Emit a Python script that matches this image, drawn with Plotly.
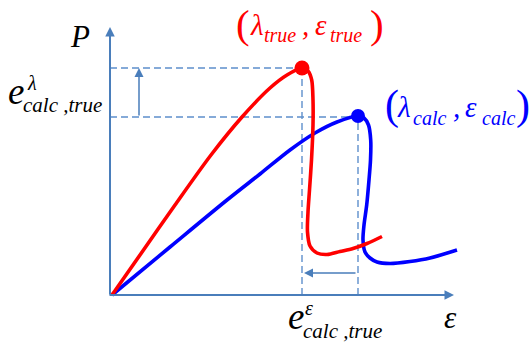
import plotly.graph_objects as go

# Sketch origin (where the P and ε axes meet), in page pixels
OX, OY = 110, 295
W, H = 530, 345

AXIS = "#4A7EBB"
GUIDE = "#5E8FCC"
RED = "#FF0000"
BLUE = "#0000FF"

# "true" response curve: deformation ε vs load P
red_eps = [2, 30, 65, 101, 132, 160, 177, 192, 198, 201.7, 203, 203, 201.5,
           199.5, 198, 197.5, 200, 207, 217, 230, 243, 257, 272]
red_P = [0, 40, 90, 140, 178, 207, 220, 227, 224, 215, 195, 170, 135,
         105, 83, 63, 49, 42, 40.5, 43.5, 46.5, 51.5, 58.5]

# "calc" response curve
blue_eps = [2, 60, 117, 150, 180, 205, 227, 248, 254, 258.5,
            260.7, 260.5, 259, 256.7, 254, 253, 255, 260, 267, 280, 300, 320, 347]
blue_P = [0, 48, 95, 121, 145, 162, 173, 179, 177, 170,
          155, 135, 115, 90, 70, 55, 43, 37, 33, 31.5, 33.5, 37, 45]

# limit points (λ, ε) of each curve
red_peak_eps, red_peak_P = 192, 227
blue_peak_eps, blue_peak_P = 248, 179

fig = go.Figure()

# dashed guide lines from the limit points to the axes
guides = [
    ([0, red_peak_eps], [red_peak_P, red_peak_P]),
    ([0, blue_peak_eps], [blue_peak_P - 1, blue_peak_P - 1]),
    ([red_peak_eps, red_peak_eps], [0, red_peak_P]),
    ([blue_peak_eps, blue_peak_eps], [0, blue_peak_P]),
]
for gx, gy in guides:
    fig.add_trace(go.Scatter(x=gx, y=gy, mode="lines", hoverinfo="skip",
                             line=dict(color=GUIDE, width=1.4, dash="7px,4px")))

for ex, py, col in [(blue_eps, blue_P, BLUE), (red_eps, red_P, RED)]:
    fig.add_trace(go.Scatter(x=ex, y=py, mode="lines",
                             line=dict(color=col, width=3.6, shape="spline", smoothing=0.8)))

fig.add_trace(go.Scatter(x=[red_peak_eps], y=[red_peak_P], mode="markers",
                         marker=dict(color=RED, size=15)))
fig.add_trace(go.Scatter(x=[blue_peak_eps], y=[blue_peak_P], mode="markers",
                         marker=dict(color=BLUE, size=14)))


def arrow(tip, tail, width, size, color):
    fig.add_annotation(x=tip[0], y=tip[1], ax=tail[0], ay=tail[1],
                       xref="x", yref="y", axref="x", ayref="y", text="",
                       showarrow=True, arrowhead=2, arrowwidth=width,
                       arrowsize=size, arrowcolor=color)


# coordinate axes
arrow((0, 268), (0, -1), 2, 0.95, AXIS)
arrow((344, 0), (-2, 0), 2, 0.95, AXIS)
# shift of the limit load and of the limit deformation
arrow((29, red_peak_P), (29, blue_peak_P - 1), 1.5, 1.2, AXIS)
arrow((red_peak_eps + 2, 22), (blue_peak_eps - 1, 22), 1.5, 1.2, AXIS)


def put(text, left, base, size, color="black", italic=True):
    """Place text by its left edge and baseline, given in page pixels."""
    fig.add_annotation(x=left - OX, y=OY - base + 0.3375 * size,
                       xref="x", yref="y", xanchor="left", yanchor="middle",
                       text=text, showarrow=False, borderpad=0, borderwidth=0,
                       font=dict(family="Liberation Serif", size=size, color=color,
                                 style="italic" if italic else "normal"))


# axis names
put("P", 70, 47, 31)
put("ε", 444, 328, 31)

# load error label
put("e", 8, 104, 37)
put("λ", 27, 89.5, 20)
put("calc ,true", 23, 112.5, 21)

# deformation error label
put("e", 288, 329, 37)
put("ε", 305, 314.5, 20)
put("calc ,true", 303, 338.5, 21)

# (λ_true, ε_true)
put("(", 236, 38, 41, RED, italic=False)
put("λ", 250, 35, 29, RED)
put("true", 264, 42, 20, RED)
put(",", 302, 35, 29, RED)
put("ε", 315, 35, 29, RED)
put("true", 330, 42, 20, RED)
put(")", 370, 38, 41, RED, italic=False)

# (λ_calc, ε_calc)
put("(", 385, 120, 42, BLUE, italic=False)
put("λ", 397, 117, 29, BLUE)
put("calc", 413, 125, 20, BLUE)
put(",", 453, 117, 29, BLUE)
put("ε", 465, 117, 29, BLUE)
put("calc", 482, 125, 20, BLUE)
put(")", 516, 120, 42, BLUE, italic=False)

fig.update_layout(
    width=W, height=H, margin=dict(l=0, r=0, t=0, b=0),
    paper_bgcolor="white", plot_bgcolor="white", showlegend=False,
    xaxis=dict(range=[-OX, W - OX], visible=False, fixedrange=True),
    yaxis=dict(range=[OY - H, OY], visible=False, fixedrange=True),
)

fig.write_html("out.html")
